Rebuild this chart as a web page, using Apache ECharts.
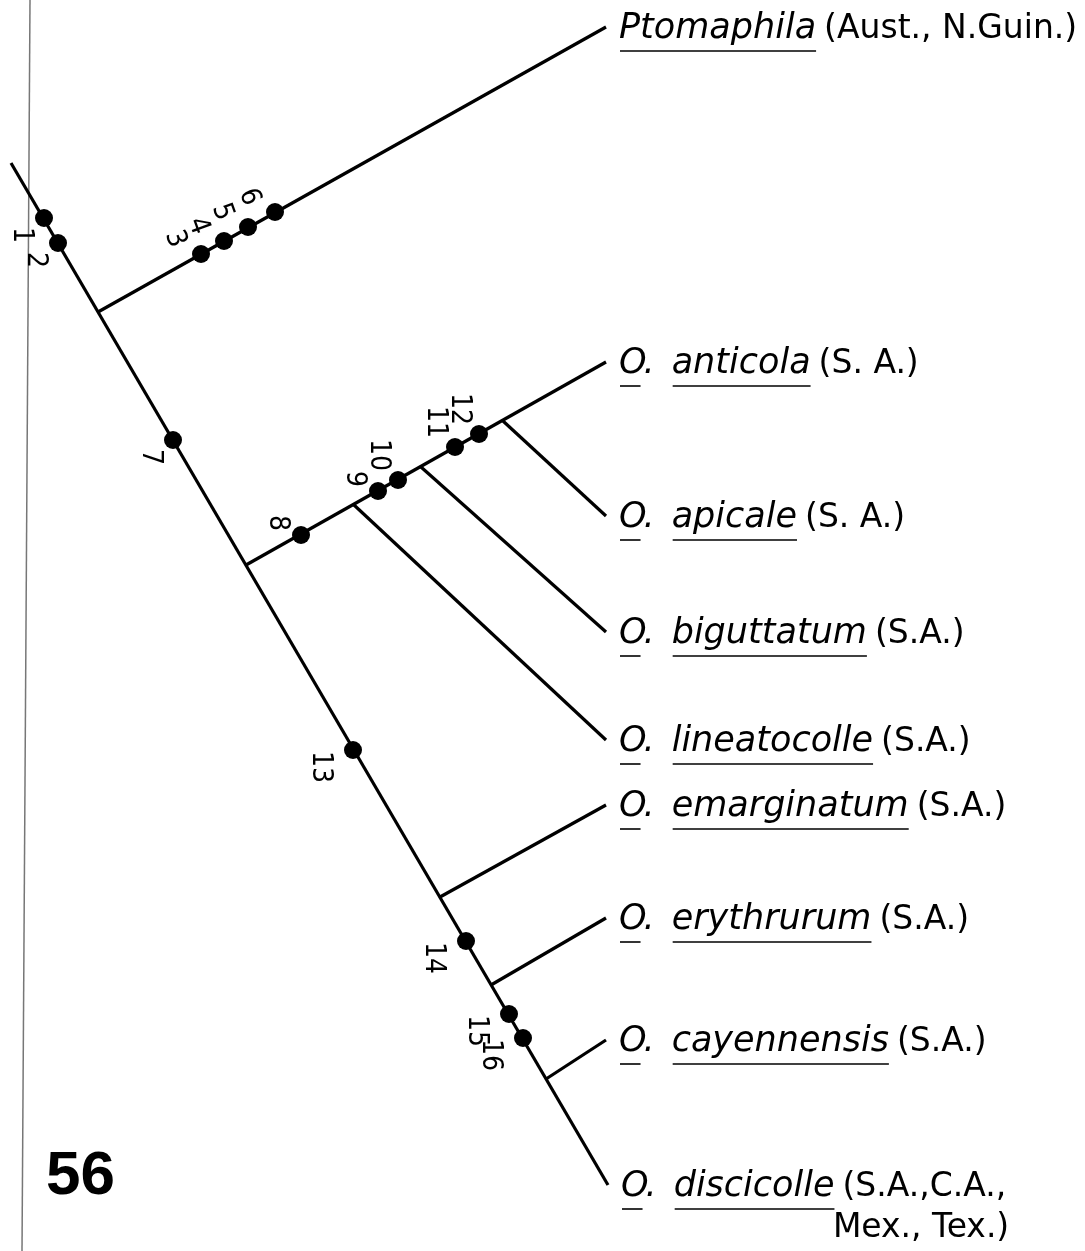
<!DOCTYPE html>
<html><head><meta charset="utf-8">
<script src="https://cdn.jsdelivr.net/npm/echarts@6/dist/echarts.min.js"></script>
<style>html,body{margin:0;padding:0;background:#fff}#c{width:1085px;height:1251px}</style>
</head><body><div id="c"></div>
<script>
// ---------- DATA (figure units) ----------
const nodeNames = ['root','jPto','jAnt','jLin','jBig','jApi','jEma','jEry','jCay',
                   'tPto','tAnt','tApi','tBig','tLin','tEma','tEry','tCay','tDis'];
const nodeX = [11, 98, 246, 354, 421, 503, 440, 491, 546, 606, 606, 606, 606, 606, 606, 606, 606, 608];
const nodeY = [163, 312, 565, 505, 467, 421, 897, 985, 1079, 27, 362, 516, 632, 740, 805, 918, 1040, 1185];
const edgeFrom = ['root','jPto','jAnt','jLin','jBig','jApi','jEma','jEry','jCay'];
const edgeTo   = ['tDis','tPto','tAnt','tLin','tBig','tApi','tEma','tEry','tCay'];

const charLabels = ['1','2','3','4','5','6','7','8','9','10','11','12','13','14','15','16'];
const charX = [44, 58, 201, 224, 248, 275, 173, 301, 378, 398, 455, 479, 353, 466, 509, 523];
const charY = [218, 243, 254, 241, 227, 212, 440, 535, 491, 480, 447, 434, 750, 941, 1014, 1038];
const charBranch = ['stem','stem','pto','pto','pto','pto','stem','ant','ant','ant','ant','ant','stem','stem','stem','stem'];

const taxonTip    = ['tPto','tAnt','tApi','tBig','tLin','tEma','tEry','tCay','tDis'];
const taxonGenus  = ['', 'O', 'O', 'O', 'O', 'O', 'O', 'O', 'O'];
const taxonNames  = ['Ptomaphila','anticola','apicale','biguttatum','lineatocolle','emarginatum','erythrurum','cayennensis','discicolle'];
const taxonRanges = ['(Aust., N.Guin.)','(S. A.)','(S. A.)','(S.A.)','(S.A.)','(S.A.)','(S.A.)','(S.A.)','(S.A.,C.A.,'];
const taxonRanges2 = ['','','','','','','','','Mex., Tex.)'];
const figureNumber = '56';

// ---------- helpers ----------
const idx = n => nodeNames.indexOf(n);
const FS = 35, FS_R = 33;
const FAM = "'DejaVu Sans', sans-serif";
const NUMFAM = "'Liberation Sans Narrow', 'DejaVu Sans Condensed', 'Liberation Sans', sans-serif";
const mctx = document.createElement('canvas').getContext('2d');
function measure(t, st) {
  mctx.font = (st.fontStyle || 'normal') + ' normal ' + st.fontSize + 'px ' + st.fontFamily;
  return mctx.measureText(t).width;
}
const numStyle = {
  stem: {dx1: -23, dy1: 17, dx2: -33, dy2: 17, rot: -90},
  pto:  {dx1: -26, dy1: -15, dx2: -26, dy2: -15, rot: -70},
  ant:  {dx1: -24, dy1: -12, dx2: -20, dy2: -25, rot: -90}
};

const chart = echarts.init(document.getElementById('c'), null, {renderer: 'canvas'});
const option = {
  backgroundColor: '#fff',
  animation: false,
  title: {
    text: figureNumber, left: 46, top: 1146, padding: 0,
    textStyle: {fontFamily: "'Liberation Sans', Arial, sans-serif", fontWeight: 'bold', fontSize: 62, color: '#000'}
  },
  graphic: [
    {type: 'line', shape: {x1: 30, y1: 0, x2: 22, y2: 1251}, style: {stroke: '#777', lineWidth: 1.5}, z: -1}
  ],
  grid: {left: 0, right: 0, top: 0, bottom: 0},
  xAxis: {type: 'value', min: 0, max: 1085, show: false},
  yAxis: {type: 'value', min: 0, max: 1251, inverse: true, show: false},
  series: [
    {
      type: 'lines', coordinateSystem: 'cartesian2d', silent: true,
      lineStyle: {color: '#000', width: 3.2, opacity: 1},
      data: edgeFrom.map((f, i) => ({coords: [[nodeX[idx(f)], nodeY[idx(f)]], [nodeX[idx(edgeTo[i])], nodeY[idx(edgeTo[i])]]]}))
    },
    {
      type: 'scatter', symbol: 'circle', symbolSize: 18, silent: true,
      itemStyle: {color: '#000', opacity: 1},
      data: charX.map((x, i) => [x, charY[i]]), z: 3
    },
    {
      type: 'custom', silent: true, clip: false,
      data: charX.map((x, i) => [x, charY[i]]),
      renderItem: function (params, api) {
        const i = params.dataIndex;
        const p = api.coord([api.value(0), api.value(1)]);
        const s = numStyle[charBranch[i]];
        const two = charLabels[i].length > 1;
        return {
          type: 'text',
          x: p[0] + (two ? s.dx2 : s.dx1), y: p[1] + (two ? s.dy2 : s.dy1),
          rotation: s.rot * Math.PI / 180,
          style: {text: charLabels[i], fontSize: 28, fontFamily: NUMFAM, fill: '#000', align: 'center', verticalAlign: 'middle'}
        };
      }
    },
    {
      type: 'custom', silent: true, clip: false,
      data: taxonTip.map(t => [nodeX[idx(t)], nodeY[idx(t)]]),
      renderItem: function (params, api) {
        const i = params.dataIndex;
        const p = api.coord([api.value(0), api.value(1)]);
        const it = {fontStyle: 'italic', fontSize: FS, fontFamily: FAM};
        const up = {fontStyle: 'normal', fontSize: FS_R, fontFamily: FAM};
        const yMid = p[1] + 2, ulY = p[1] + 24;
        const kids = [];
        const addText = (t, st, xx, yy, align) => kids.push({type: 'text', x: xx, y: yy,
          style: Object.assign({text: t, fill: '#000', align: align || 'left', verticalAlign: 'middle'}, st)});
        const addLine = (a, b, y) => kids.push({type: 'line', shape: {x1: a, y1: y, x2: b, y2: y}, style: {stroke: '#000', lineWidth: 1.6}});
        let x = p[0] + 13;
        if (taxonGenus[i]) {
          const g = taxonGenus[i];
          const wg = measure(g, it);
          addText(g, it, x, yMid);
          addLine(x + 1, x + wg - 6, ulY);
          addText('.', it, x + wg - 3, yMid);
          x += wg + measure('.', it) + 14;
        }
        addText(taxonNames[i], it, x, yMid);
        const ws = measure(taxonNames[i], it);
        addLine(x + 1, x + ws, ulY);
        x += ws + 8;
        addText(taxonRanges[i], up, x, yMid);
        if (taxonRanges2[i]) {
          const wr = measure(taxonRanges[i], up);
          addText(taxonRanges2[i], up, x + wr + 3, yMid + 41, 'right');
        }
        return {type: 'group', children: kids};
      }
    }
  ]
};
chart.setOption(option);
</script>
</body></html>
